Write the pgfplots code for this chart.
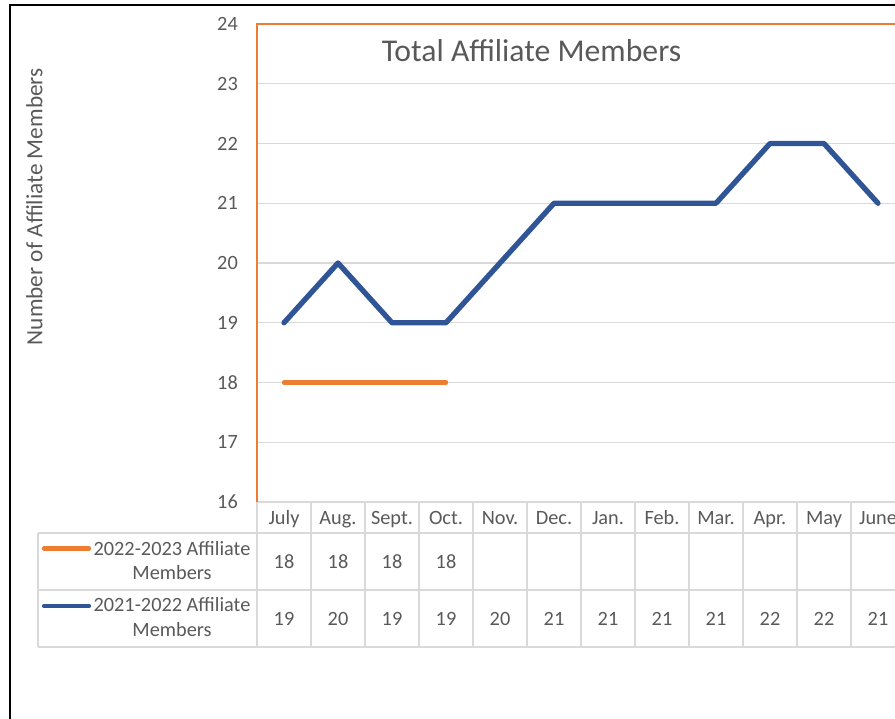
\documentclass[border=0pt]{standalone}
\usepackage{pgfplots}
\pgfplotsset{compat=1.18}
\usepackage{fontspec}
\setmainfont{Carlito}
\definecolor{txt}{HTML}{595959}
\definecolor{grd}{HTML}{D9D9D9}
\definecolor{org}{HTML}{ED7D31}
\definecolor{blu}{HTML}{2F5597}
\newcommand{\tf}{\fontsize{20.3}{20.3}\selectfont}
\begin{document}
\begin{tikzpicture}[x=1pt,y=-1pt]
\useasboundingbox (0,0) rectangle (895,719);
\clip (0,0) rectangle (895,719);
\begin{axis}[
  at={(257pt,-502pt)}, anchor=south west,
  scale only axis, width=648pt, height=478pt,
  xmin=-0.5, xmax=11.5, ymin=16, ymax=24,
  ytick={16,...,24}, xtick={0,...,11},
  xticklabels={July,Aug.,Sept.,Oct.,Nov.,Dec.,Jan.,Feb.,Mar.,Apr.,May,June},
  ymajorgrids, grid style={grd, line width=1.3pt},
  major tick length=0pt, axis line style={draw=none},
  /pgf/number format/assume math mode=true,
  tick label style={font=\tf, text=txt},
  yticklabel style={anchor=east, inner sep=0pt, xshift=-19pt},
  xticklabel style={anchor=base, inner sep=0pt, yshift=-22pt},
  clip=false,
]
\addplot[blu, line width=5.3pt, line join=round, line cap=round] coordinates {(0,19)(1,20)(2,19)(3,19)(4,20)(5,21)(6,21)(7,21)(8,21)(9,22)(10,22)(11,21)};
\addplot[org, line width=4.3pt, line cap=round] coordinates {(0,18)(1,18)(2,18)(3,18)};
% data table values
\addplot[draw=none, nodes near coords, point meta=explicit,
  nodes near coords style={anchor=base, inner sep=0pt, font=\tf, text=txt}]
  coordinates {(0,14.890)[18] (1,14.890)[18] (2,14.890)[18] (3,14.890)[18]};
\addplot[draw=none, nodes near coords, point meta=explicit,
  nodes near coords style={anchor=base, inner sep=0pt, font=\tf, text=txt}]
  coordinates {(0,13.941)[19] (1,13.941)[20] (2,13.941)[19] (3,13.941)[19] (4,13.941)[20] (5,13.941)[21] (6,13.941)[21] (7,13.941)[21] (8,13.941)[21] (9,13.941)[22] (10,13.941)[22] (11,13.941)[21]};
\end{axis}
% table grid
\draw[grd, line width=1.3pt] (257,502) -- (905,502);
\draw[grd, line width=1.3pt] (38,533) -- (905,533);
\draw[grd, line width=1.3pt] (38,590) -- (905,590);
\draw[grd, line width=1.3pt] (38,647) -- (905,647);
\draw[grd, line width=1.3pt] (38,533) -- (38,647);
\foreach \xx in {257,311,...,905} {\draw[grd, line width=1.3pt] (\xx,502) -- (\xx,647);}
% plot area border (orange)
\draw[org, line width=1.5pt] (257,502) -- (257,24) -- (905,24);
% outer frame
\draw[black, line width=2pt] (10,725) -- (10,5.3) -- (900,5.3);
% legend keys and labels
\draw[org, line width=4.3pt, line cap=round] (44,548.5) -- (89,548.5);
\draw[blu, line width=4.3pt, line cap=round] (44,606) -- (89,606);
\node[anchor=base, font=\tf, text=txt, inner sep=0pt] at (172,555) {2022-2023 Affiliate};
\node[anchor=base, font=\tf, text=txt, inner sep=0pt] at (172,579.3) {Members};
\node[anchor=base, font=\tf, text=txt, inner sep=0pt] at (172,611.7) {2021-2022 Affiliate};
\node[anchor=base, font=\tf, text=txt, inner sep=0pt] at (172,636) {Members};
% title and axis label
\node[anchor=base, font=\fontsize{31.7}{31.7}\selectfont, text=txt, inner sep=0pt] at (531.5,61.7) {Total Affiliate Members};
\node[rotate=90, anchor=base, font=\fontsize{23.3}{23.3}\selectfont, text=txt, inner sep=0pt] at (42.3,206.7) {Number of Affiliate Members};
\end{tikzpicture}
\end{document}
